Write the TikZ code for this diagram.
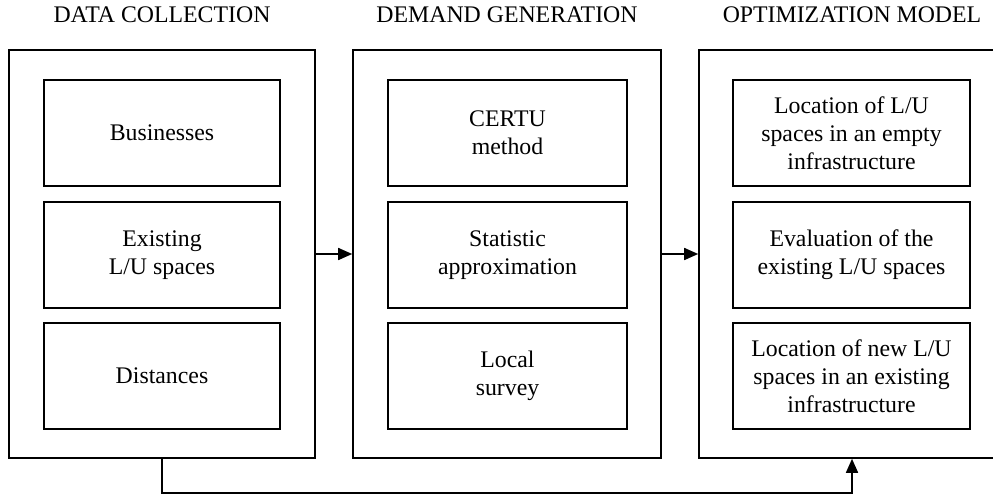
\documentclass[tikz,border=0pt]{standalone}
\usepackage{fontspec}
\setmainfont{Liberation Serif}
\usetikzlibrary{arrows.meta}
\tikzset{
  outerbox/.style={draw, line width=1.6pt, minimum width=306pt, minimum height=408pt, inner sep=0pt},
  innerbox/.style={draw, line width=1.6pt, minimum width=237pt, minimum height=106pt, inner sep=0pt,
    align=center, font=\fontsize{23.8}{28}\selectfont},
  title/.style={anchor=base, font=\fontsize{23.8}{28}\selectfont, inner sep=0pt},
  conn/.style={line width=1.6pt, -{Triangle[length=14pt,width=12pt]}}
}
\begin{document}
\begin{tikzpicture}[x=1pt,y=-1pt]
\useasboundingbox (0,0) rectangle (993,495);
% titles
\node[title] (t1) at (162,23) {DATA COLLECTION};
\node[title] (t2) at (507,23) {DEMAND GENERATION};
\node[title] (t3) at (852,23) {OPTIMIZATION MODEL};
% outer boxes
\node[outerbox] (o1) at (162,254) {};
\node[outerbox, minimum width=308pt] (o2) at (507,254) {};
\node[outerbox] (o3) at (852,254) {};
% column 1
\node[innerbox, minimum width=236pt] (a1) at (162,133) {Businesses};
\node[innerbox, minimum width=236pt] (a2) at (162,255) {Existing\\L/U spaces};
\node[innerbox, minimum width=236pt] (a3) at (162,376) {Distances};
% column 2
\node[innerbox, minimum width=239pt] (b1) at (507.5,133) {CERTU\\method};
\node[innerbox, minimum width=239pt] (b2) at (507.5,255) {Statistic\\approximation};
\node[innerbox, minimum width=239pt] (b3) at (507.5,376) {Local\\survey};
% column 3
\node[innerbox] (c1) at (851.5,133) {Location of L/U\\spaces in an empty\\infrastructure};
\node[innerbox] (c2) at (851.5,255) {Evaluation of the\\existing L/U spaces};
\node[innerbox] (c3) at (851.5,376) {Location of new L/U\\spaces in an existing\\infrastructure};
% connectors
\draw[conn] (o1.east) -- (o2.west);
\draw[conn] (o2.east) -- (o3.west);
\coordinate (bl) at (162,493);
\draw[conn] (o1.south) -- (bl) -| (o3.south);
\end{tikzpicture}
\end{document}
